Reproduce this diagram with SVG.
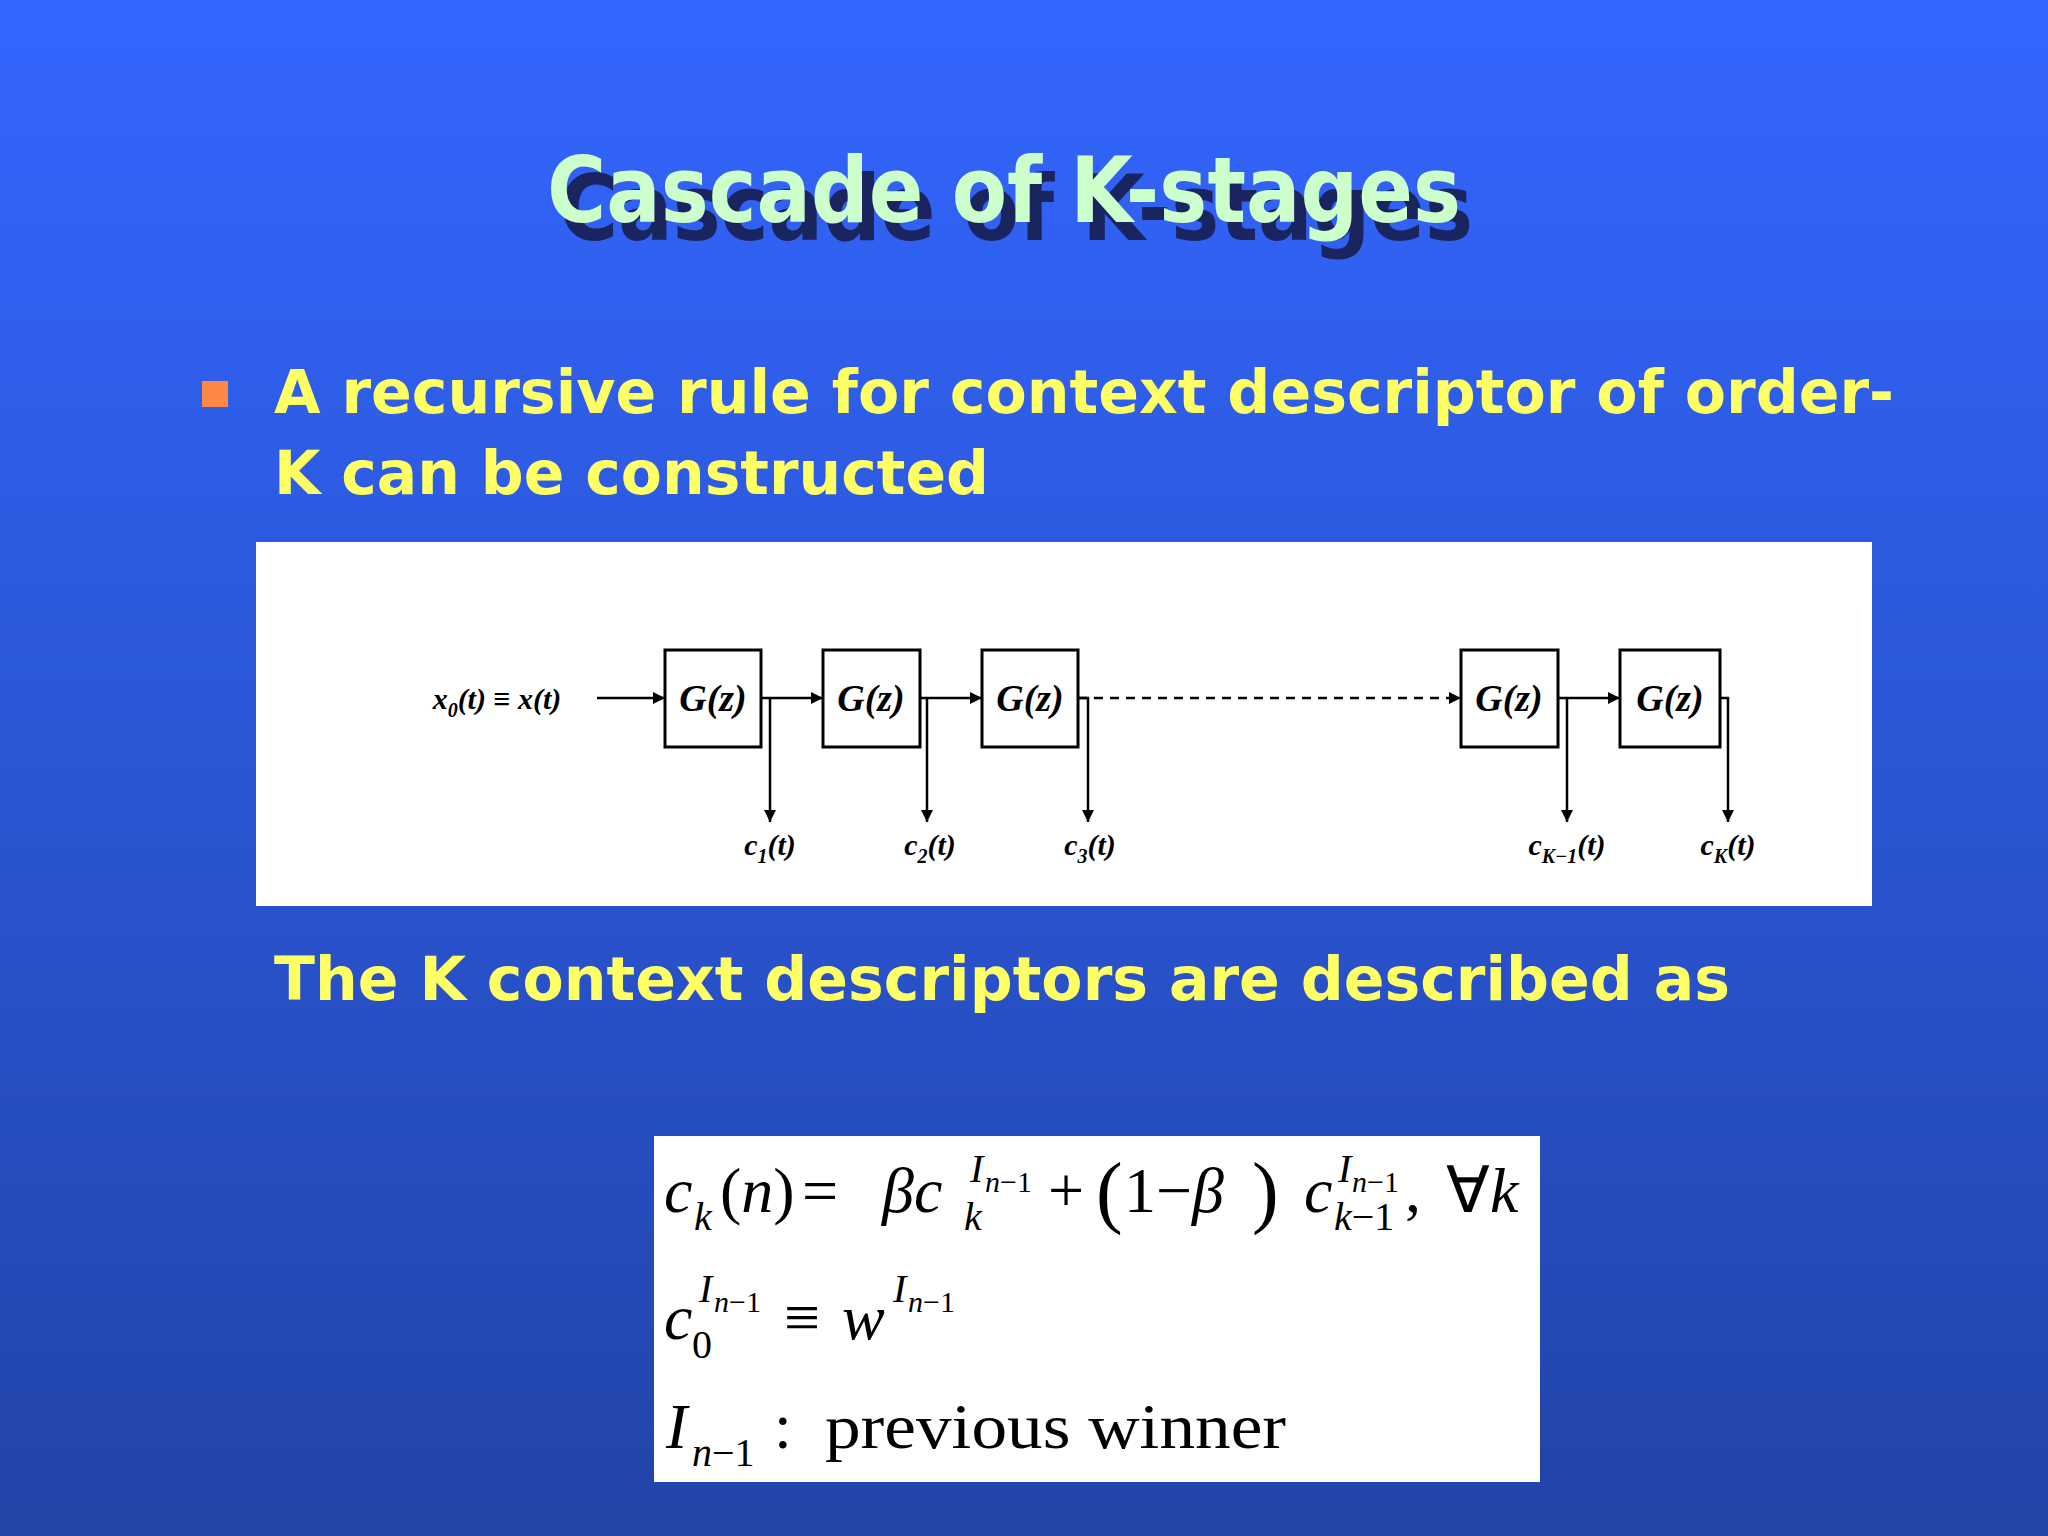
<svg xmlns="http://www.w3.org/2000/svg" width="2048" height="1536" viewBox="0 0 2048 1536">
<defs>
<linearGradient id="bg" x1="0" y1="0" x2="0" y2="1">
<stop offset="0" stop-color="#3366ff"/><stop offset="1" stop-color="#2244a8"/>
</linearGradient>
<marker id="ah" viewBox="0 0 10 10" refX="10" refY="5" markerWidth="5" markerHeight="5" orient="auto"><path d="M0,0L10,5L0,10z" fill="#000"/></marker>
</defs>
<style>
.t{font-family:"DejaVu Sans",Verdana,sans-serif;font-weight:bold}
.y{fill:#ffff66;font-size:60px}
.b{fill:none;stroke:#000;stroke-width:3}
.l{stroke:#000;stroke-width:2.5;fill:none}
.g{font-family:"Liberation Serif",serif;font-style:italic;font-weight:bold;font-size:38px;text-anchor:middle}
.s{font-family:"Liberation Serif",serif;font-weight:bold;font-style:italic;font-size:30px;text-anchor:middle}
.m{font-family:"Liberation Serif","Times New Roman",serif;font-size:64px}
.i{font-style:italic}
.sb{font-size:40px}
.ss{font-size:30px}
</style>
<rect width="2048" height="1536" fill="url(#bg)"/>
<g id="title">
<text class="t" x="1016" y="240" font-size="90" fill="#1a2560" textLength="914" lengthAdjust="spacingAndGlyphs" text-anchor="middle">Cascade of K-stages</text>
<text class="t" x="1004" y="222" font-size="90" fill="#ccffcc" textLength="914" lengthAdjust="spacingAndGlyphs" text-anchor="middle">Cascade of K-stages</text>
</g>
<rect x="202" y="381" width="26" height="26" fill="#ff8844"/>
<text class="t y" x="274" y="413" textLength="1620" lengthAdjust="spacingAndGlyphs">A recursive rule for context descriptor of order-</text>
<text class="t y" x="274" y="494" textLength="715" lengthAdjust="spacingAndGlyphs">K can be constructed</text>
<rect x="256" y="542" width="1616" height="364" fill="#fff"/>
<g id="input"><text class="s" x="497" y="709">x<tspan font-size="20" dy="8">0</tspan><tspan dy="-8">(t) ≡ x(t)</tspan></text></g>
<g id="g1"><rect class="b" x="665" y="650" width="96" height="97"/><text class="g" x="713" y="711">G(z)</text></g>
<g id="g2"><rect class="b" x="823" y="650" width="97" height="97"/><text class="g" x="871" y="711">G(z)</text></g>
<g id="g3"><rect class="b" x="982" y="650" width="96" height="97"/><text class="g" x="1030" y="711">G(z)</text></g>
<g id="g4"><rect class="b" x="1461" y="650" width="97" height="97"/><text class="g" x="1509" y="711">G(z)</text></g>
<g id="g5"><rect class="b" x="1620" y="650" width="100" height="97"/><text class="g" x="1670" y="711">G(z)</text></g>
<g id="connectors">
<line class="l" x1="597" y1="698" x2="665" y2="698" marker-end="url(#ah)"/>
<line class="l" x1="761" y1="698" x2="823" y2="698" marker-end="url(#ah)"/>
<line class="l" x1="920" y1="698" x2="982" y2="698" marker-end="url(#ah)"/>
<line class="l" x1="1078" y1="698" x2="1461" y2="698" stroke-dasharray="9,7" marker-end="url(#ah)"/>
<line class="l" x1="1558" y1="698" x2="1620" y2="698" marker-end="url(#ah)"/>
<path class="l" d="M770,698V822" marker-end="url(#ah)"/>
<path class="l" d="M927,698V822" marker-end="url(#ah)"/>
<path class="l" d="M1078,698H1088V822" marker-end="url(#ah)"/>
<path class="l" d="M1567,698V822" marker-end="url(#ah)"/>
<path class="l" d="M1720,698H1728V822" marker-end="url(#ah)"/>
</g>
<g id="outs">
<text class="s" x="770" y="855">c<tspan font-size="20" dy="8">1</tspan><tspan dy="-8">(t)</tspan></text>
<text class="s" x="930" y="855">c<tspan font-size="20" dy="8">2</tspan><tspan dy="-8">(t)</tspan></text>
<text class="s" x="1090" y="855">c<tspan font-size="20" dy="8">3</tspan><tspan dy="-8">(t)</tspan></text>
<text class="s" x="1567" y="855">c<tspan font-size="20" dy="8">K−1</tspan><tspan dy="-8">(t)</tspan></text>
<text class="s" x="1728" y="855">c<tspan font-size="20" dy="8">K</tspan><tspan dy="-8">(t)</tspan></text>
</g>
<text class="t y" x="274" y="1000" textLength="1456" lengthAdjust="spacingAndGlyphs">The K context descriptors are described as</text>
<rect x="654" y="1136" width="886" height="346" fill="#fff"/>
<g id="formula" class="m">
<text x="664" y="1212" class="i">c</text><text x="694" y="1230" class="i sb">k</text>
<text x="720" y="1212">(<tspan class="i">n</tspan>)</text>
<text x="802" y="1212">=</text>
<text x="882" y="1212" class="i">βc</text>
<text x="970" y="1182" class="i sb">I</text><text x="985" y="1192" class="i ss">n</text><text x="1000" y="1192" class="ss">−1</text>
<text x="964" y="1230" class="i sb">k</text>
<text x="1048" y="1212">+</text>
<text x="1096" y="1218" font-size="80">(</text><text x="1124" y="1212">1−<tspan class="i">β</tspan></text><text x="1252" y="1218" font-size="80">)</text>
<text x="1304" y="1212" class="i">c</text>
<text x="1338" y="1182" class="i sb">I</text><text x="1352" y="1192" class="i ss">n</text><text x="1367" y="1192" class="ss">−1</text>
<text x="1334" y="1230" class="sb"><tspan class="i">k</tspan>−1</text>
<text x="1405" y="1212">,</text>
<text x="1446" y="1212">∀<tspan class="i">k</tspan></text>
<text x="664" y="1339" class="i">c</text>
<text x="699" y="1302" class="i sb">I</text><text x="714" y="1312" class="i ss">n</text><text x="729" y="1312" class="ss">−1</text>
<text x="692" y="1358" class="sb">0</text>
<text x="784" y="1339">≡</text>
<text x="842" y="1339" class="i">w</text>
<text x="893" y="1302" class="i sb">I</text><text x="908" y="1312" class="i ss">n</text><text x="923" y="1312" class="ss">−1</text>
<text x="666" y="1448" class="i">I</text>
<text x="692" y="1466" class="sb"><tspan class="i">n</tspan>−1</text>
<text x="774" y="1448">:</text>
<text x="825" y="1448" textLength="461" lengthAdjust="spacingAndGlyphs">previous winner</text>
</g>
</svg>
